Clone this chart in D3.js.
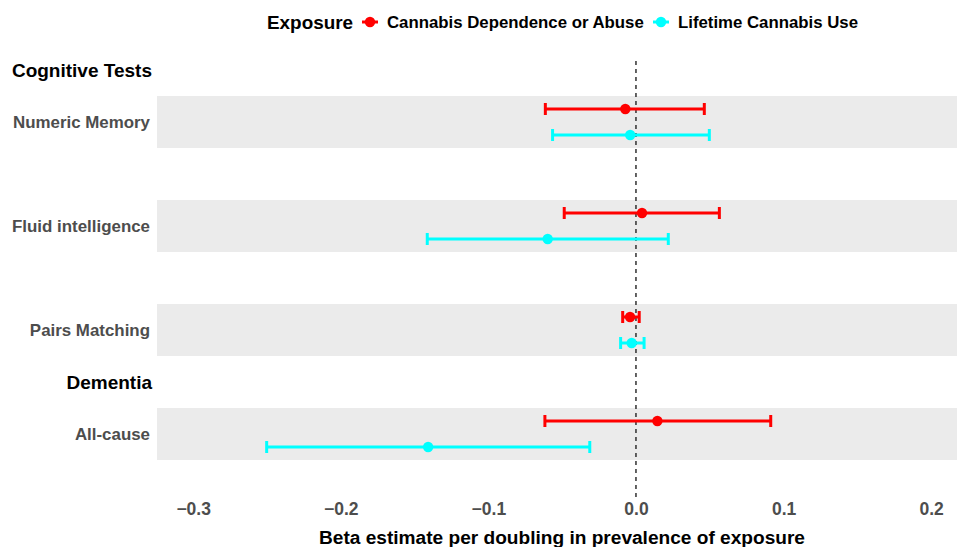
<!DOCTYPE html>
<html>
<head>
<meta charset="utf-8">
<script src="https://cdn.jsdelivr.net/npm/d3@7"></script>
<style>
  html, body { margin: 0; padding: 0; background: #fff; }
  svg { display: block; font-family: "Liberation Sans", Arial, Helvetica, sans-serif; }
</style>
</head>
<body>
<svg id="chart" width="957" height="547"></svg>
<script>
// Row layout (top to bottom): section headers, outcomes and spacer rows
const rowSlots = ["Cognitive Tests", "Numeric Memory", "gap1", "Fluid intelligence", "gap2",
                  "Pairs Matching", "Dementia", "All-cause", "gap3"];
const headers = ["Cognitive Tests", "Dementia"];
const outcomes = ["Numeric Memory", "Fluid intelligence", "Pairs Matching", "All-cause"];
const exposures = ["Cannabis Dependence or Abuse", "Lifetime Cannabis Use"];
const exposureColors = ["#FF0000", "#00FFFF"];

// Beta estimates with 95% CI, per outcome (same order as outcomes)
const dependenceBeta  = [-0.0072, 0.0041, -0.0040, 0.0145];
const dependenceLower = [-0.0614, -0.0486, -0.0090, -0.0617];
const dependenceUpper = [0.0463, 0.0565, 0.0022, 0.0913];
const lifetimeBeta    = [-0.0039, -0.0598, -0.0029, -0.1408];
const lifetimeLower   = [-0.0565, -0.1414, -0.0104, -0.2502];
const lifetimeUpper   = [0.0497, 0.0219, 0.0055, -0.0313];

const xTicks = [-0.3, -0.2, -0.1, 0.0, 0.1, 0.2];
const xTickLabels = ["\u22120.3", "\u22120.2", "\u22120.1", "0.0", "0.1", "0.2"];

const estimates = [];
outcomes.forEach((o, i) => {
  estimates.push({ outcome: o, exposure: 0, beta: dependenceBeta[i], lo: dependenceLower[i], hi: dependenceUpper[i] });
  estimates.push({ outcome: o, exposure: 1, beta: lifetimeBeta[i], lo: lifetimeLower[i], hi: lifetimeUpper[i] });
});

const svg = d3.select("#chart");
const panel = { left: 157, right: 957, top: 61, bottom: 497 };

const x = d3.scaleLinear().domain([-0.3245, 0.2175]).range([panel.left, panel.right]);
const y = d3.scalePoint().domain(rowSlots).range([70, 486]).padding(0);
const step = y.step();
const dodge = d3.scalePoint().domain([0, 1]).range([-13, 13]);

// Shaded bands behind each outcome row
svg.append("g").selectAll("rect").data(outcomes).join("rect")
  .attr("x", panel.left).attr("width", panel.right - panel.left)
  .attr("y", d => y(d) - step / 2).attr("height", step)
  .attr("fill", "#EBEBEB");

// Null reference line
svg.append("line")
  .attr("x1", x(0)).attr("x2", x(0))
  .attr("y1", panel.top).attr("y2", panel.bottom)
  .attr("stroke", "#222").attr("stroke-width", 1.4)
  .attr("stroke-dasharray", "4,4");

// Error bars with caps
const bars = svg.append("g").selectAll("g").data(estimates).join("g")
  .attr("stroke", d => exposureColors[d.exposure])
  .attr("stroke-width", 3);
bars.append("line")
  .attr("x1", d => x(d.lo)).attr("x2", d => x(d.hi))
  .attr("y1", d => y(d.outcome) + dodge(d.exposure))
  .attr("y2", d => y(d.outcome) + dodge(d.exposure));
bars.append("line")
  .attr("x1", d => x(d.lo)).attr("x2", d => x(d.lo))
  .attr("y1", d => y(d.outcome) + dodge(d.exposure) - 6)
  .attr("y2", d => y(d.outcome) + dodge(d.exposure) + 6);
bars.append("line")
  .attr("x1", d => x(d.hi)).attr("x2", d => x(d.hi))
  .attr("y1", d => y(d.outcome) + dodge(d.exposure) - 6)
  .attr("y2", d => y(d.outcome) + dodge(d.exposure) + 6);

// Point estimates
svg.append("g").selectAll("circle").data(estimates).join("circle")
  .attr("cx", d => x(d.beta))
  .attr("cy", d => y(d.outcome) + dodge(d.exposure))
  .attr("r", 5.2)
  .attr("fill", d => exposureColors[d.exposure]);

// Y labels: section headers in black, outcomes in grey
svg.append("g").selectAll("text").data(headers).join("text")
  .attr("x", 152).attr("y", d => y(d)).attr("dy", "0.35em")
  .attr("text-anchor", "end")
  .attr("font-size", 19).attr("font-weight", "bold").attr("fill", "#000")
  .text(d => d);
svg.append("g").selectAll("text").data(outcomes).join("text")
  .attr("x", 150).attr("y", d => y(d)).attr("dy", "0.35em")
  .attr("text-anchor", "end")
  .attr("font-size", 16.9).attr("font-weight", "bold").attr("fill", "#4D4D4D")
  .text(d => d);

// X axis (labels only)
const xAxis = d3.axisBottom(x).tickValues(xTicks)
  .tickFormat((d, i) => xTickLabels[i]).tickSize(0).tickPadding(0);
const gx = svg.append("g").attr("transform", `translate(0, ${panel.bottom + 6})`).call(xAxis);
gx.select(".domain").remove();
gx.selectAll("text")
  .attr("font-size", 17.5).attr("font-weight", "bold")
  .attr("fill", "#4D4D4D").attr("font-family", "Liberation Sans, Arial, sans-serif");

svg.append("text")
  .attr("x", 562).attr("y", 544)
  .attr("text-anchor", "middle")
  .attr("font-size", 19.1).attr("font-weight", "bold").attr("fill", "#000")
  .text("Beta estimate per doubling in prevalence of exposure");

// Legend
const legend = svg.append("g").attr("transform", "translate(267, 22)");
legend.append("text").attr("x", 0).attr("y", 0).attr("dy", "0.35em")
  .attr("font-size", 18.9).attr("font-weight", "bold").attr("fill", "#000")
  .text("Exposure");
const keyX = [103, 394];
exposures.forEach((e, i) => {
  const k = legend.append("g").attr("transform", `translate(${keyX[i]}, 0)`);
  k.append("line").attr("x1", -8).attr("x2", 8).attr("y1", 0).attr("y2", 0)
    .attr("stroke", exposureColors[i]).attr("stroke-width", 3);
  k.append("circle").attr("r", 5.2).attr("fill", exposureColors[i]);
  k.append("text").attr("x", 17).attr("y", 0).attr("dy", "0.35em")
    .attr("font-size", 16.8).attr("font-weight", "bold").attr("fill", "#000")
    .text(e);
});
</script>
</body>
</html>
